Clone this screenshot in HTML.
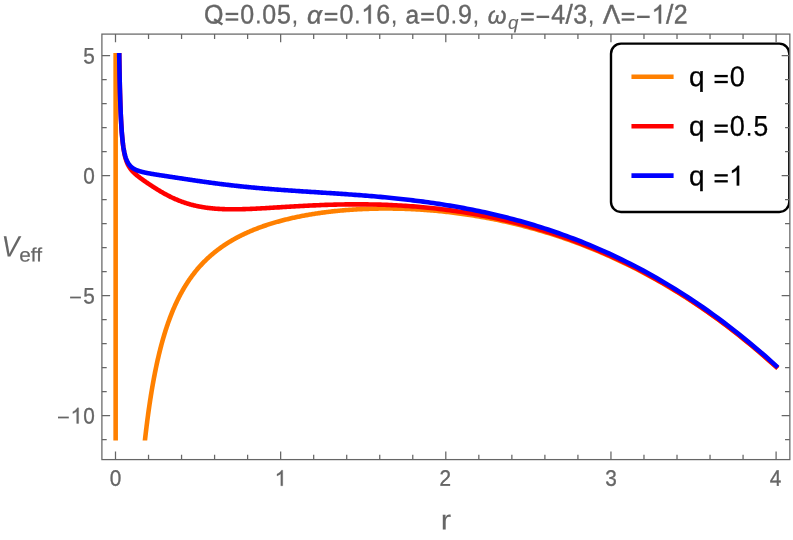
<!DOCTYPE html>
<html><head><meta charset="utf-8"><title>Veff plot</title>
<style>html,body{margin:0;padding:0;background:#fff;}body{width:793px;height:540px;position:relative;overflow:hidden;font-family:"Liberation Sans",sans-serif;}</style>
</head><body>
<svg width="793" height="540" viewBox="0 0 793 540" style="position:absolute;left:0;top:0;will-change:transform">
<defs><clipPath id="cp"><rect x="100" y="53" width="692" height="387.5"/></clipPath><clipPath id="lc"><rect x="600" y="30" width="189.6" height="200"/></clipPath></defs>
<rect width="793" height="540" fill="#fff"/>
<g clip-path="url(#cp)" fill="none" stroke-width="4.6" stroke-linejoin="round" stroke-linecap="square">
<path d="M115.65,40 L115.65,450" stroke="#FF8000"/>
<path d="M132.01,647.06 L132.10,644.60 L132.19,642.15 L132.28,639.71 L132.37,637.28 L132.46,634.87 L132.55,632.47 L132.64,630.08 L132.73,627.70 L132.82,625.34 L132.91,622.99 L133.00,620.65 L133.09,618.32 L133.19,616.00 L133.28,613.70 L133.38,611.40 L133.47,609.12 L133.57,606.85 L133.66,604.60 L133.76,602.35 L133.85,600.12 L133.95,597.89 L134.05,595.68 L134.15,593.48 L134.24,591.29 L134.34,589.12 L134.44,586.95 L134.54,584.80 L134.64,582.65 L134.75,580.52 L134.85,578.40 L134.95,576.28 L135.05,574.18 L135.16,572.10 L135.26,570.02 L135.37,567.95 L135.47,565.89 L135.58,563.84 L135.68,561.81 L135.79,559.78 L135.90,557.77 L136.00,555.76 L136.11,553.77 L136.22,551.78 L136.33,549.81 L136.44,547.85 L136.55,545.89 L136.66,543.95 L136.78,542.01 L136.89,540.09 L137.00,538.18 L137.12,536.27 L137.23,534.38 L137.34,532.49 L137.46,530.62 L137.58,528.75 L137.69,526.90 L137.81,525.05 L137.93,523.22 L138.05,521.39 L138.17,519.57 L138.29,517.77 L138.41,515.97 L138.53,514.18 L138.65,512.40 L138.77,510.63 L138.90,508.86 L139.02,507.11 L139.14,505.37 L139.27,503.63 L139.40,501.91 L139.52,500.19 L139.65,498.48 L139.78,496.78 L139.91,495.09 L140.03,493.41 L140.16,491.74 L140.29,490.08 L140.43,488.42 L140.56,486.77 L140.69,485.13 L140.82,483.50 L140.96,481.88 L141.09,480.27 L141.23,478.66 L141.36,477.07 L141.50,475.48 L141.64,473.90 L141.78,472.33 L141.92,470.76 L142.06,469.21 L142.20,467.66 L142.34,466.12 L142.48,464.59 L142.62,463.06 L142.77,461.55 L142.91,460.04 L143.05,458.54 L143.20,457.05 L143.35,455.56 L143.49,454.09 L143.64,452.62 L143.79,451.15 L143.94,449.70 L144.09,448.25 L144.24,446.81 L144.40,445.38 L144.55,443.96 L144.70,442.54 L144.86,441.13 L145.01,439.73 L145.17,438.33 L145.32,436.95 L145.48,435.57 L145.64,434.19 L145.80,432.83 L145.96,431.47 L146.12,430.11 L146.28,428.77 L146.45,427.43 L146.61,426.10 L146.78,424.77 L146.94,423.46 L147.11,422.15 L147.27,420.84 L147.44,419.54 L147.61,418.25 L147.78,416.97 L147.95,415.69 L148.12,414.42 L148.30,413.16 L148.47,411.90 L148.64,410.65 L148.82,409.41 L149.00,408.17 L149.17,406.94 L149.35,405.71 L149.53,404.49 L149.71,403.28 L149.89,402.07 L150.07,400.87 L150.26,399.68 L150.44,398.49 L150.63,397.31 L150.81,396.14 L151.00,394.97 L151.19,393.80 L151.38,392.65 L151.56,391.49 L151.76,390.35 L151.95,389.21 L152.14,388.08 L152.33,386.95 L152.53,385.83 L152.73,384.71 L152.92,383.60 L153.12,382.50 L153.32,381.40 L153.52,380.31 L153.72,379.22 L153.92,378.14 L154.13,377.06 L154.33,375.99 L154.54,374.93 L154.74,373.87 L154.95,372.82 L155.16,371.77 L155.37,370.72 L155.58,369.69 L155.79,368.66 L156.00,367.63 L156.22,366.61 L156.43,365.59 L156.65,364.58 L156.87,363.58 L157.09,362.57 L157.31,361.58 L157.53,360.59 L157.75,359.61 L157.98,358.63 L158.20,357.65 L158.43,356.68 L158.65,355.72 L158.88,354.76 L159.11,353.80 L159.34,352.85 L159.57,351.91 L159.81,350.97 L160.04,350.03 L160.28,349.10 L160.51,348.18 L160.75,347.26 L160.99,346.34 L161.23,345.43 L161.47,344.53 L161.72,343.62 L161.96,342.73 L162.21,341.84 L162.45,340.95 L162.70,340.07 L162.95,339.19 L163.20,338.31 L163.46,337.44 L163.71,336.58 L163.97,335.72 L164.22,334.86 L164.48,334.01 L164.74,333.17 L165.00,332.32 L165.26,331.49 L165.52,330.65 L165.79,329.82 L166.06,329.00 L166.32,328.18 L166.59,327.36 L166.86,326.55 L167.13,325.74 L167.41,324.94 L167.68,324.14 L167.96,323.34 L168.24,322.55 L168.51,321.76 L168.80,320.98 L169.08,320.20 L169.36,319.42 L169.65,318.65 L169.93,317.89 L170.22,317.12 L170.51,316.36 L170.80,315.61 L171.09,314.86 L171.39,314.11 L171.68,313.37 L171.98,312.63 L172.28,311.89 L172.58,311.16 L172.88,310.43 L173.19,309.70 L173.49,308.98 L173.80,308.27 L174.11,307.55 L174.42,306.84 L174.73,306.14 L175.04,305.44 L175.36,304.74 L175.67,304.04 L175.99,303.35 L176.31,302.66 L176.63,301.98 L176.96,301.30 L177.28,300.62 L177.61,299.95 L177.94,299.28 L178.27,298.61 L178.60,297.95 L178.93,297.29 L179.27,296.63 L179.61,295.98 L179.95,295.33 L180.29,294.68 L180.63,294.04 L180.97,293.40 L181.32,292.77 L181.67,292.13 L182.02,291.50 L182.37,290.88 L182.73,290.25 L183.08,289.63 L183.44,289.02 L183.80,288.40 L184.16,287.79 L184.52,287.19 L184.89,286.58 L185.26,285.98 L185.62,285.39 L186.00,284.79 L186.37,284.20 L186.74,283.61 L187.12,283.03 L187.50,282.44 L187.88,281.86 L188.26,281.29 L188.65,280.71 L189.04,280.14 L189.42,279.58 L189.82,279.01 L190.21,278.45 L190.60,277.89 L191.00,277.34 L191.40,276.79 L191.80,276.24 L192.21,275.69 L192.61,275.14 L193.02,274.60 L193.43,274.07 L193.84,273.53 L194.26,273.00 L194.67,272.47 L195.09,271.94 L195.51,271.41 L195.94,270.89 L196.36,270.37 L196.79,269.86 L197.22,269.34 L197.65,268.83 L198.09,268.32 L198.53,267.82 L198.96,267.32 L199.41,266.82 L199.85,266.32 L200.30,265.82 L200.75,265.33 L201.20,264.84 L201.65,264.35 L202.11,263.87 L202.56,263.39 L203.02,262.91 L203.49,262.43 L203.95,261.95 L204.42,261.48 L204.89,261.01 L205.36,260.54 L205.84,260.08 L206.32,259.62 L206.80,259.16 L207.28,258.70 L207.77,258.24 L208.26,257.79 L208.75,257.34 L209.24,256.89 L209.74,256.45 L210.23,256.00 L210.74,255.56 L211.24,255.12 L211.75,254.69 L212.26,254.25 L212.77,253.82 L213.28,253.39 L213.80,252.97 L214.32,252.54 L214.84,252.12 L215.37,251.70 L215.90,251.28 L216.43,250.87 L216.96,250.45 L217.50,250.04 L218.04,249.63 L218.58,249.22 L219.13,248.82 L219.67,248.42 L220.23,248.02 L220.78,247.62 L221.34,247.22 L221.90,246.83 L222.46,246.44 L223.03,246.05 L223.60,245.66 L224.17,245.27 L224.74,244.89 L225.32,244.51 L225.90,244.13 L226.49,243.75 L227.07,243.38 L227.66,243.00 L228.26,242.63 L228.85,242.26 L229.45,241.90 L230.06,241.53 L230.66,241.17 L231.27,240.81 L231.88,240.45 L232.50,240.09 L233.12,239.74 L233.74,239.38 L234.37,239.03 L235.00,238.68 L235.63,238.34 L236.26,237.99 L236.90,237.65 L237.55,237.31 L238.19,236.97 L238.84,236.63 L239.49,236.30 L240.15,235.96 L240.81,235.63 L241.47,235.30 L242.14,234.97 L242.81,234.65 L243.48,234.33 L244.16,234.00 L244.84,233.68 L245.52,233.36 L246.21,233.05 L246.90,232.73 L247.60,232.42 L248.30,232.11 L249.00,231.80 L249.71,231.50 L250.42,231.19 L251.13,230.89 L251.85,230.59 L252.57,230.29 L253.30,229.99 L254.02,229.69 L254.76,229.40 L255.49,229.11 L256.24,228.82 L256.98,228.53 L257.73,228.24 L258.48,227.96 L259.24,227.67 L260.00,227.39 L260.76,227.11 L261.53,226.83 L262.30,226.56 L263.08,226.29 L263.86,226.01 L264.65,225.74 L265.44,225.47 L266.23,225.21 L267.03,224.94 L267.83,224.68 L268.63,224.42 L269.44,224.16 L270.26,223.90 L271.08,223.65 L271.90,223.39 L272.73,223.14 L273.56,222.89 L274.40,222.64 L275.24,222.39 L276.08,222.15 L276.93,221.91 L277.79,221.67 L278.65,221.43 L279.51,221.19 L280.38,220.95 L281.25,220.72 L282.13,220.49 L283.01,220.26 L283.89,220.03 L284.79,219.80 L285.68,219.58 L286.58,219.36 L287.49,219.14 L288.40,218.92 L289.31,218.70 L290.23,218.48 L291.16,218.27 L292.09,218.06 L293.02,217.85 L293.96,217.64 L294.90,217.44 L295.85,217.23 L296.81,217.03 L297.77,216.83 L298.73,216.64 L299.70,216.44 L300.68,216.25 L301.66,216.05 L302.64,215.86 L303.63,215.68 L304.63,215.49 L305.63,215.31 L306.63,215.12 L307.64,214.95 L308.66,214.77 L309.68,214.59 L310.71,214.42 L311.74,214.25 L312.78,214.08 L313.83,213.91 L314.87,213.75 L315.93,213.58 L316.99,213.42 L318.06,213.26 L319.13,213.11 L320.21,212.95 L321.29,212.80 L322.38,212.65 L323.47,212.50 L324.57,212.36 L325.68,212.22 L326.79,212.08 L327.91,211.94 L329.03,211.80 L330.16,211.67 L331.30,211.54 L332.44,211.41 L333.59,211.28 L334.74,211.16 L335.90,211.04 L337.07,210.92 L338.24,210.80 L339.42,210.69 L340.60,210.58 L341.80,210.47 L342.99,210.36 L344.20,210.26 L345.41,210.16 L346.62,210.06 L347.85,209.96 L349.08,209.87 L350.31,209.78 L351.55,209.69 L352.80,209.61 L354.06,209.53 L355.32,209.45 L356.59,209.37 L357.87,209.30 L359.15,209.23 L360.44,209.17 L361.73,209.10 L363.04,209.04 L364.35,208.98 L365.66,208.93 L366.99,208.88 L368.32,208.83 L369.66,208.79 L371.00,208.75 L372.35,208.71 L373.71,208.67 L375.08,208.64 L376.45,208.62 L377.83,208.59 L379.22,208.57 L380.62,208.56 L382.02,208.54 L383.43,208.53 L384.85,208.53 L386.27,208.53 L387.70,208.53 L389.14,208.53 L390.59,208.54 L392.05,208.56 L393.51,208.58 L394.98,208.60 L396.46,208.62 L397.95,208.65 L399.44,208.69 L400.94,208.73 L402.45,208.77 L403.97,208.82 L405.50,208.87 L407.03,208.93 L408.58,208.99 L410.13,209.06 L411.69,209.13 L413.25,209.21 L414.83,209.29 L416.41,209.37 L418.01,209.47 L419.61,209.56 L421.21,209.66 L422.83,209.77 L424.46,209.88 L426.09,210.00 L427.74,210.12 L429.39,210.25 L431.05,210.39 L432.72,210.53 L434.40,210.67 L436.09,210.83 L437.78,210.99 L439.49,211.15 L441.20,211.32 L442.92,211.50 L444.66,211.68 L446.40,211.87 L448.15,212.07 L449.91,212.27 L451.68,212.48 L453.46,212.70 L455.25,212.92 L457.04,213.15 L458.85,213.39 L460.67,213.64 L462.49,213.89 L464.33,214.15 L466.18,214.42 L468.03,214.70 L469.90,214.98 L471.77,215.27 L473.66,215.57 L475.55,215.88 L477.46,216.20 L479.37,216.53 L481.30,216.86 L483.23,217.21 L485.18,217.56 L487.14,217.92 L489.10,218.29 L491.08,218.67 L493.07,219.06 L495.06,219.46 L497.07,219.87 L499.09,220.29 L501.12,220.72 L503.16,221.16 L505.21,221.61 L507.28,222.08 L509.35,222.55 L511.43,223.03 L513.53,223.53 L515.63,224.04 L517.75,224.55 L519.88,225.08 L522.02,225.63 L524.17,226.18 L526.33,226.75 L528.51,227.33 L530.69,227.92 L532.89,228.52 L535.10,229.14 L537.32,229.77 L539.55,230.42 L541.79,231.08 L544.05,231.75 L546.32,232.44 L548.60,233.14 L550.89,233.86 L553.19,234.59 L555.51,235.34 L557.84,236.10 L560.18,236.88 L562.53,237.67 L564.89,238.48 L567.27,239.31 L569.66,240.16 L572.07,241.02 L574.48,241.90 L576.91,242.79 L579.35,243.71 L581.81,244.64 L584.27,245.59 L586.75,246.56 L589.25,247.55 L591.75,248.56 L594.27,249.59 L596.81,250.64 L599.35,251.71 L601.91,252.80 L604.49,253.91 L607.08,255.05 L609.68,256.20 L612.29,257.38 L614.92,258.58 L617.56,259.80 L620.22,261.05 L622.89,262.32 L625.57,263.61 L628.27,264.93 L630.99,266.28 L633.71,267.65 L636.46,269.04 L639.21,270.46 L641.98,271.91 L644.77,273.38 L647.57,274.89 L650.39,276.42 L653.22,277.97 L656.06,279.56 L658.92,281.18 L661.80,282.83 L664.69,284.50 L667.59,286.21 L670.52,287.95 L673.45,289.72 L676.40,291.53 L679.37,293.36 L682.36,295.23 L685.36,297.14 L688.37,299.08 L691.40,301.05 L694.45,303.06 L697.51,305.11 L700.59,307.19 L703.69,309.31 L706.80,311.47 L709.93,313.67 L713.07,315.91 L716.24,318.18 L719.41,320.50 L722.61,322.86 L725.82,325.26 L729.05,327.71 L732.30,330.20 L735.56,332.73 L738.84,335.31 L742.14,337.93 L745.46,340.60 L748.79,343.32 L752.14,346.08 L755.51,348.90 L758.90,351.76 L762.30,354.68 L765.72,357.64 L769.16,360.66 L772.62,363.73 L776.10,366.86" stroke="#FF8000"/>
<path d="M117.48,-243.51 L117.50,-236.64 L117.52,-229.89 L117.53,-223.24 L117.55,-216.71 L117.57,-210.28 L117.58,-203.96 L117.60,-197.74 L117.62,-191.63 L117.64,-185.61 L117.65,-179.70 L117.67,-173.88 L117.69,-168.16 L117.71,-162.53 L117.73,-156.99 L117.74,-151.55 L117.76,-146.20 L117.78,-140.93 L117.80,-135.75 L117.82,-130.66 L117.84,-125.65 L117.86,-120.72 L117.88,-115.88 L117.90,-111.11 L117.92,-106.42 L117.94,-101.81 L117.96,-97.28 L117.98,-92.82 L118.00,-88.43 L118.02,-84.12 L118.04,-79.88 L118.06,-75.70 L118.09,-71.60 L118.11,-67.56 L118.13,-63.59 L118.15,-59.69 L118.17,-55.85 L118.20,-52.07 L118.22,-48.35 L118.24,-44.70 L118.26,-41.11 L118.29,-37.57 L118.31,-34.10 L118.33,-30.68 L118.36,-27.31 L118.38,-24.01 L118.40,-20.75 L118.43,-17.55 L118.45,-14.41 L118.48,-11.31 L118.50,-8.27 L118.53,-5.27 L118.55,-2.33 L118.58,0.57 L118.60,3.41 L118.63,6.22 L118.66,8.97 L118.68,11.68 L118.71,14.35 L118.74,16.97 L118.76,19.55 L118.79,22.08 L118.82,24.58 L118.85,27.03 L118.87,29.44 L118.90,31.82 L118.93,34.15 L118.96,36.45 L118.99,38.71 L119.02,40.93 L119.05,43.11 L119.08,45.26 L119.11,47.37 L119.14,49.45 L119.17,51.50 L119.20,53.51 L119.23,55.48 L119.26,57.43 L119.29,59.34 L119.32,61.22 L119.35,63.07 L119.39,64.90 L119.42,66.69 L119.45,68.45 L119.48,70.18 L119.52,71.88 L119.55,73.56 L119.58,75.21 L119.62,76.83 L119.65,78.42 L119.69,79.99 L119.72,81.53 L119.76,83.05 L119.79,84.55 L119.83,86.01 L119.86,87.46 L119.90,88.88 L119.94,90.28 L119.97,91.65 L120.01,93.00 L120.05,94.33 L120.09,95.64 L120.13,96.93 L120.16,98.19 L120.20,99.44 L120.24,100.66 L120.28,101.86 L120.32,103.05 L120.36,104.21 L120.40,105.36 L120.44,106.49 L120.49,107.60 L120.53,108.69 L120.57,109.76 L120.61,110.82 L120.65,111.86 L120.70,112.88 L120.74,113.88 L120.78,114.87 L120.83,115.85 L120.87,116.80 L120.92,117.74 L120.96,118.67 L121.01,119.58 L121.05,120.48 L121.10,121.36 L121.15,122.23 L121.19,123.08 L121.24,123.92 L121.29,124.74 L121.34,125.56 L121.39,126.36 L121.44,127.14 L121.49,127.92 L121.54,128.68 L121.59,129.43 L121.64,130.16 L121.69,130.89 L121.74,131.60 L121.79,132.30 L121.84,132.99 L121.90,133.67 L121.95,134.34 L122.00,135.00 L122.06,135.65 L122.11,136.28 L122.17,136.91 L122.22,137.53 L122.28,138.13 L122.34,138.73 L122.39,139.32 L122.45,139.90 L122.51,140.47 L122.57,141.03 L122.63,141.58 L122.69,142.12 L122.75,142.66 L122.81,143.18 L122.87,143.70 L122.93,144.21 L122.99,144.71 L123.05,145.20 L123.12,145.69 L123.18,146.17 L123.24,146.64 L123.31,147.10 L123.37,147.56 L123.44,148.01 L123.51,148.45 L123.57,148.88 L123.64,149.31 L123.71,149.74 L123.78,150.15 L123.85,150.56 L123.92,150.96 L123.99,151.36 L124.06,151.75 L124.13,152.14 L124.20,152.52 L124.27,152.89 L124.35,153.26 L124.42,153.62 L124.49,153.98 L124.57,154.33 L124.64,154.67 L124.72,155.02 L124.80,155.35 L124.88,155.68 L124.95,156.01 L125.03,156.33 L125.11,156.65 L125.19,156.96 L125.27,157.27 L125.35,157.57 L125.44,157.87 L125.52,158.17 L125.60,158.46 L125.69,158.75 L125.77,159.03 L125.86,159.31 L125.95,159.59 L126.03,159.86 L126.12,160.12 L126.21,160.39 L126.30,160.65 L126.39,160.91 L126.48,161.16 L126.57,161.41 L126.66,161.66 L126.76,161.90 L126.85,162.14 L126.94,162.38 L127.04,162.62 L127.14,162.85 L127.23,163.08 L127.33,163.30 L127.43,163.53 L127.53,163.75 L127.63,163.97 L127.73,164.18 L127.83,164.39 L127.94,164.60 L128.04,164.81 L128.15,165.02 L128.25,165.22 L128.36,165.42 L128.46,165.62 L128.57,165.82 L128.68,166.01 L128.79,166.21 L128.90,166.40 L129.01,166.59 L129.13,166.77 L129.24,166.96 L129.36,167.14 L129.47,167.32 L129.59,167.50 L129.71,167.68 L129.82,167.86 L129.94,168.03 L130.06,168.21 L130.19,168.38 L130.31,168.55 L130.43,168.72 L130.56,168.89 L130.68,169.06 L130.81,169.22 L130.94,169.39 L131.07,169.55 L131.20,169.71 L131.33,169.87 L131.46,170.03 L131.59,170.19 L131.73,170.35 L131.86,170.51 L132.00,170.66 L132.14,170.82 L132.27,170.98 L132.41,171.13 L132.56,171.28 L132.70,171.43 L132.84,171.59 L132.99,171.74 L133.13,171.89 L133.28,172.04 L133.43,172.19 L133.58,172.34 L133.73,172.49 L133.88,172.64 L134.03,172.78 L134.19,172.93 L134.34,173.08 L134.50,173.22 L134.66,173.37 L134.82,173.52 L134.98,173.66 L135.14,173.81 L135.31,173.96 L135.47,174.10 L135.64,174.25 L135.81,174.39 L135.98,174.54 L136.15,174.69 L136.32,174.83 L136.49,174.98 L136.67,175.13 L136.85,175.27 L137.02,175.42 L137.20,175.56 L137.38,175.71 L137.57,175.86 L137.75,176.01 L137.94,176.15 L138.12,176.30 L138.31,176.45 L138.50,176.60 L138.70,176.75 L138.89,176.90 L139.08,177.05 L139.28,177.20 L139.48,177.35 L139.68,177.50 L139.88,177.66 L140.08,177.81 L140.29,177.96 L140.50,178.12 L140.71,178.27 L140.92,178.43 L141.13,178.58 L141.34,178.74 L141.56,178.90 L141.77,179.05 L141.99,179.21 L142.22,179.37 L142.44,179.53 L142.66,179.70 L142.89,179.86 L143.12,180.02 L143.35,180.18 L143.58,180.35 L143.82,180.52 L144.05,180.68 L144.29,180.85 L144.53,181.02 L144.77,181.19 L145.02,181.36 L145.26,181.53 L145.51,181.70 L145.76,181.88 L146.01,182.05 L146.27,182.23 L146.53,182.40 L146.79,182.58 L147.05,182.76 L147.31,182.94 L147.57,183.12 L147.84,183.30 L148.11,183.48 L148.38,183.67 L148.66,183.85 L148.94,184.04 L149.21,184.23 L149.50,184.41 L149.78,184.60 L150.07,184.79 L150.35,184.99 L150.65,185.18 L150.94,185.37 L151.23,185.57 L151.53,185.76 L151.83,185.96 L152.14,186.16 L152.44,186.36 L152.75,186.56 L153.06,186.76 L153.37,186.96 L153.69,187.17 L154.01,187.37 L154.33,187.58 L154.66,187.78 L154.98,187.99 L155.31,188.20 L155.64,188.41 L155.98,188.62 L156.32,188.83 L156.66,189.04 L157.00,189.26 L157.35,189.47 L157.70,189.68 L158.05,189.90 L158.40,190.12 L158.76,190.33 L159.12,190.55 L159.49,190.77 L159.85,190.99 L160.22,191.21 L160.60,191.43 L160.97,191.65 L161.35,191.88 L161.74,192.10 L162.12,192.32 L162.51,192.54 L162.90,192.77 L163.30,192.99 L163.70,193.22 L164.10,193.44 L164.50,193.67 L164.91,193.90 L165.33,194.12 L165.74,194.35 L166.16,194.57 L166.58,194.80 L167.01,195.03 L167.44,195.25 L167.87,195.48 L168.31,195.71 L168.75,195.93 L169.20,196.16 L169.64,196.38 L170.10,196.61 L170.55,196.84 L171.01,197.06 L171.47,197.29 L171.94,197.51 L172.41,197.73 L172.89,197.96 L173.37,198.18 L173.85,198.40 L174.34,198.62 L174.83,198.84 L175.32,199.06 L175.82,199.28 L176.32,199.49 L176.83,199.71 L177.34,199.92 L177.86,200.14 L178.38,200.35 L178.91,200.56 L179.43,200.77 L179.97,200.98 L180.51,201.19 L181.05,201.39 L181.60,201.60 L182.15,201.80 L182.70,202.00 L183.26,202.20 L183.83,202.40 L184.40,202.59 L184.97,202.79 L185.55,202.98 L186.14,203.17 L186.73,203.35 L187.32,203.54 L187.92,203.72 L188.53,203.90 L189.14,204.08 L189.75,204.26 L190.37,204.43 L191.00,204.60 L191.63,204.77 L192.26,204.94 L192.90,205.10 L193.55,205.26 L194.20,205.42 L194.86,205.58 L195.52,205.73 L196.19,205.88 L196.86,206.03 L197.54,206.17 L198.22,206.31 L198.91,206.45 L199.61,206.58 L200.31,206.72 L201.02,206.85 L201.73,206.97 L202.45,207.09 L203.18,207.21 L203.91,207.33 L204.65,207.44 L205.39,207.55 L206.14,207.66 L206.90,207.76 L207.66,207.86 L208.43,207.96 L209.20,208.05 L209.99,208.14 L210.78,208.23 L211.57,208.31 L212.37,208.39 L213.18,208.47 L214.00,208.54 L214.82,208.61 L215.65,208.68 L216.48,208.74 L217.32,208.80 L218.17,208.86 L219.03,208.91 L219.90,208.96 L220.77,209.00 L221.64,209.04 L222.53,209.08 L223.42,209.12 L224.32,209.15 L225.23,209.18 L226.15,209.20 L227.07,209.23 L228.00,209.24 L228.94,209.26 L229.89,209.27 L230.84,209.28 L231.81,209.29 L232.78,209.29 L233.76,209.29 L234.74,209.28 L235.74,209.28 L236.74,209.27 L237.75,209.26 L238.77,209.24 L239.80,209.22 L240.84,209.20 L241.88,209.18 L242.94,209.15 L244.00,209.12 L245.08,209.09 L246.16,209.05 L247.25,209.01 L248.35,208.97 L249.46,208.93 L250.57,208.89 L251.70,208.84 L252.84,208.79 L253.98,208.74 L255.14,208.68 L256.30,208.63 L257.48,208.57 L258.66,208.51 L259.86,208.44 L261.06,208.38 L262.28,208.31 L263.50,208.25 L264.74,208.18 L265.98,208.11 L267.24,208.03 L268.51,207.96 L269.78,207.88 L271.07,207.81 L272.37,207.73 L273.68,207.65 L275.00,207.57 L276.33,207.49 L277.67,207.41 L279.02,207.33 L280.39,207.24 L281.76,207.16 L283.15,207.07 L284.55,206.99 L285.96,206.90 L287.38,206.82 L288.82,206.73 L290.27,206.64 L291.72,206.56 L293.19,206.47 L294.68,206.39 L296.17,206.30 L297.68,206.22 L299.20,206.13 L300.73,206.05 L302.28,205.96 L303.84,205.88 L305.41,205.80 L307.00,205.72 L308.59,205.64 L310.20,205.56 L311.83,205.48 L313.47,205.40 L315.12,205.33 L316.79,205.26 L318.47,205.19 L320.16,205.12 L321.87,205.05 L323.59,204.99 L325.33,204.92 L327.08,204.86 L328.84,204.80 L330.62,204.75 L332.42,204.70 L334.23,204.65 L336.05,204.60 L337.89,204.56 L339.75,204.52 L341.62,204.48 L343.51,204.45 L345.41,204.42 L347.33,204.39 L349.27,204.37 L351.22,204.36 L353.18,204.34 L355.17,204.34 L357.17,204.33 L359.18,204.34 L361.22,204.34 L363.27,204.36 L365.34,204.37 L367.42,204.40 L369.52,204.43 L371.64,204.46 L373.78,204.50 L375.94,204.55 L378.11,204.61 L380.30,204.67 L382.51,204.74 L384.74,204.81 L386.99,204.90 L389.25,204.99 L391.54,205.09 L393.84,205.20 L396.16,205.31 L398.50,205.44 L400.87,205.57 L403.25,205.71 L405.65,205.87 L408.07,206.03 L410.51,206.20 L412.97,206.39 L415.46,206.58 L417.96,206.78 L420.48,207.00 L423.03,207.23 L425.60,207.47 L428.18,207.72 L430.79,207.99 L433.42,208.26 L436.08,208.55 L438.75,208.86 L441.45,209.18 L444.17,209.51 L446.91,209.86 L449.68,210.23 L452.47,210.61 L455.28,211.00 L458.11,211.41 L460.97,211.84 L463.86,212.29 L466.76,212.76 L469.70,213.24 L472.65,213.75 L475.63,214.27 L478.64,214.81 L481.67,215.37 L484.72,215.96 L487.81,216.57 L490.91,217.20 L494.05,217.85 L497.20,218.52 L500.39,219.22 L503.60,219.95 L506.84,220.70 L510.11,221.47 L513.40,222.28 L516.72,223.11 L520.07,223.97 L523.44,224.86 L526.85,225.77 L530.28,226.72 L533.74,227.70 L537.23,228.72 L540.75,229.76 L544.30,230.84 L547.88,231.96 L551.49,233.11 L555.13,234.30 L558.80,235.53 L562.50,236.79 L566.23,238.10 L569.99,239.44 L573.78,240.83 L577.60,242.26 L581.46,243.74 L585.35,245.26 L589.27,246.83 L593.22,248.44 L597.21,250.11 L601.23,251.83 L605.28,253.59 L609.37,255.42 L613.49,257.29 L617.65,259.22 L621.84,261.21 L626.07,263.26 L630.33,265.37 L634.62,267.54 L638.95,269.78 L643.32,272.08 L647.73,274.45 L652.17,276.89 L656.65,279.40 L661.16,281.98 L665.72,284.63 L670.31,287.37 L674.94,290.18 L679.61,293.07 L684.32,296.05 L689.06,299.11 L693.85,302.26 L698.68,305.49 L703.54,308.82 L708.45,312.25 L713.40,315.77 L718.39,319.39 L723.42,323.11 L728.49,326.94 L733.61,330.87 L738.77,334.92 L743.97,339.08 L749.21,343.35 L754.50,347.75 L759.83,352.26 L765.21,356.91 L770.63,361.68 L776.10,366.58" stroke="#FF0000"/>
<path d="M117.48,-243.56 L117.50,-236.69 L117.52,-229.94 L117.53,-223.29 L117.55,-216.76 L117.57,-210.33 L117.58,-204.01 L117.60,-197.79 L117.62,-191.68 L117.64,-185.67 L117.65,-179.75 L117.67,-173.94 L117.69,-168.22 L117.71,-162.59 L117.73,-157.06 L117.74,-151.61 L117.76,-146.26 L117.78,-141.00 L117.80,-135.82 L117.82,-130.73 L117.84,-125.72 L117.86,-120.79 L117.88,-115.95 L117.90,-111.18 L117.92,-106.49 L117.94,-101.89 L117.96,-97.35 L117.98,-92.89 L118.00,-88.51 L118.02,-84.20 L118.04,-79.95 L118.06,-75.78 L118.09,-71.68 L118.11,-67.64 L118.13,-63.68 L118.15,-59.77 L118.17,-55.93 L118.20,-52.16 L118.22,-48.44 L118.24,-44.79 L118.26,-41.20 L118.29,-37.67 L118.31,-34.19 L118.33,-30.78 L118.36,-27.41 L118.38,-24.11 L118.40,-20.86 L118.43,-17.66 L118.45,-14.51 L118.48,-11.42 L118.50,-8.38 L118.53,-5.39 L118.55,-2.44 L118.58,0.45 L118.60,3.30 L118.63,6.10 L118.66,8.85 L118.68,11.56 L118.71,14.22 L118.74,16.84 L118.76,19.42 L118.79,21.95 L118.82,24.44 L118.85,26.89 L118.87,29.30 L118.90,31.67 L118.93,34.01 L118.96,36.30 L118.99,38.56 L119.02,40.77 L119.05,42.96 L119.08,45.10 L119.11,47.21 L119.14,49.29 L119.17,51.33 L119.20,53.34 L119.23,55.31 L119.26,57.26 L119.29,59.17 L119.32,61.04 L119.35,62.89 L119.39,64.71 L119.42,66.50 L119.45,68.26 L119.48,69.98 L119.52,71.69 L119.55,73.36 L119.58,75.00 L119.62,76.62 L119.65,78.21 L119.69,79.78 L119.72,81.32 L119.76,82.83 L119.79,84.32 L119.83,85.78 L119.86,87.22 L119.90,88.64 L119.94,90.03 L119.97,91.40 L120.01,92.75 L120.05,94.08 L120.09,95.38 L120.13,96.66 L120.16,97.92 L120.20,99.16 L120.24,100.38 L120.28,101.58 L120.32,102.76 L120.36,103.93 L120.40,105.07 L120.44,106.19 L120.49,107.29 L120.53,108.38 L120.57,109.45 L120.61,110.50 L120.65,111.53 L120.70,112.55 L120.74,113.55 L120.78,114.53 L120.83,115.50 L120.87,116.45 L120.92,117.38 L120.96,118.30 L121.01,119.21 L121.05,120.10 L121.10,120.97 L121.15,121.84 L121.19,122.68 L121.24,123.52 L121.29,124.33 L121.34,125.14 L121.39,125.93 L121.44,126.71 L121.49,127.48 L121.54,128.23 L121.59,128.97 L121.64,129.70 L121.69,130.42 L121.74,131.13 L121.79,131.82 L121.84,132.50 L121.90,133.17 L121.95,133.83 L122.00,134.48 L122.06,135.12 L122.11,135.75 L122.17,136.37 L122.22,136.98 L122.28,137.57 L122.34,138.16 L122.39,138.74 L122.45,139.31 L122.51,139.87 L122.57,140.42 L122.63,140.96 L122.69,141.49 L122.75,142.02 L122.81,142.53 L122.87,143.04 L122.93,143.54 L122.99,144.03 L123.05,144.51 L123.12,144.98 L123.18,145.45 L123.24,145.91 L123.31,146.36 L123.37,146.81 L123.44,147.24 L123.51,147.67 L123.57,148.09 L123.64,148.51 L123.71,148.92 L123.78,149.32 L123.85,149.72 L123.92,150.11 L123.99,150.49 L124.06,150.87 L124.13,151.24 L124.20,151.60 L124.27,151.96 L124.35,152.31 L124.42,152.66 L124.49,153.00 L124.57,153.34 L124.64,153.67 L124.72,153.99 L124.80,154.31 L124.88,154.62 L124.95,154.93 L125.03,155.24 L125.11,155.54 L125.19,155.83 L125.27,156.12 L125.35,156.41 L125.44,156.69 L125.52,156.96 L125.60,157.23 L125.69,157.50 L125.77,157.76 L125.86,158.02 L125.95,158.28 L126.03,158.53 L126.12,158.77 L126.21,159.01 L126.30,159.25 L126.39,159.49 L126.48,159.72 L126.57,159.95 L126.66,160.17 L126.76,160.39 L126.85,160.60 L126.94,160.82 L127.04,161.03 L127.14,161.23 L127.23,161.44 L127.33,161.64 L127.43,161.83 L127.53,162.03 L127.63,162.22 L127.73,162.40 L127.83,162.59 L127.94,162.77 L128.04,162.95 L128.15,163.12 L128.25,163.30 L128.36,163.47 L128.46,163.63 L128.57,163.80 L128.68,163.96 L128.79,164.12 L128.90,164.28 L129.01,164.43 L129.13,164.59 L129.24,164.74 L129.36,164.88 L129.47,165.03 L129.59,165.17 L129.71,165.31 L129.82,165.45 L129.94,165.59 L130.06,165.73 L130.19,165.86 L130.31,165.99 L130.43,166.12 L130.56,166.24 L130.68,166.37 L130.81,166.49 L130.94,166.61 L131.07,166.73 L131.20,166.85 L131.33,166.97 L131.46,167.08 L131.59,167.19 L131.73,167.31 L131.86,167.42 L132.00,167.52 L132.14,167.63 L132.27,167.73 L132.41,167.84 L132.56,167.94 L132.70,168.04 L132.84,168.14 L132.99,168.24 L133.13,168.33 L133.28,168.43 L133.43,168.52 L133.58,168.61 L133.73,168.71 L133.88,168.80 L134.03,168.88 L134.19,168.97 L134.34,169.06 L134.50,169.14 L134.66,169.23 L134.82,169.31 L134.98,169.39 L135.14,169.47 L135.31,169.55 L135.47,169.63 L135.64,169.71 L135.81,169.79 L135.98,169.86 L136.15,169.94 L136.32,170.01 L136.49,170.09 L136.67,170.16 L136.85,170.23 L137.02,170.30 L137.20,170.37 L137.38,170.44 L137.57,170.51 L137.75,170.58 L137.94,170.65 L138.12,170.71 L138.31,170.78 L138.50,170.85 L138.70,170.91 L138.89,170.97 L139.08,171.04 L139.28,171.10 L139.48,171.16 L139.68,171.22 L139.88,171.29 L140.08,171.35 L140.29,171.41 L140.50,171.47 L140.71,171.52 L140.92,171.58 L141.13,171.64 L141.34,171.70 L141.56,171.76 L141.77,171.81 L141.99,171.87 L142.22,171.93 L142.44,171.98 L142.66,172.04 L142.89,172.09 L143.12,172.15 L143.35,172.20 L143.58,172.26 L143.82,172.31 L144.05,172.37 L144.29,172.42 L144.53,172.47 L144.77,172.53 L145.02,172.58 L145.26,172.63 L145.51,172.68 L145.76,172.74 L146.01,172.79 L146.27,172.84 L146.53,172.89 L146.79,172.94 L147.05,173.00 L147.31,173.05 L147.57,173.10 L147.84,173.15 L148.11,173.20 L148.38,173.25 L148.66,173.31 L148.94,173.36 L149.21,173.41 L149.50,173.46 L149.78,173.51 L150.07,173.56 L150.35,173.61 L150.65,173.67 L150.94,173.72 L151.23,173.77 L151.53,173.82 L151.83,173.87 L152.14,173.92 L152.44,173.98 L152.75,174.03 L153.06,174.08 L153.37,174.13 L153.69,174.19 L154.01,174.24 L154.33,174.29 L154.66,174.34 L154.98,174.40 L155.31,174.45 L155.64,174.51 L155.98,174.56 L156.32,174.61 L156.66,174.67 L157.00,174.72 L157.35,174.78 L157.70,174.83 L158.05,174.89 L158.40,174.95 L158.76,175.00 L159.12,175.06 L159.49,175.12 L159.85,175.17 L160.22,175.23 L160.60,175.29 L160.97,175.35 L161.35,175.41 L161.74,175.46 L162.12,175.52 L162.51,175.58 L162.90,175.64 L163.30,175.71 L163.70,175.77 L164.10,175.83 L164.50,175.89 L164.91,175.95 L165.33,176.02 L165.74,176.08 L166.16,176.14 L166.58,176.21 L167.01,176.27 L167.44,176.34 L167.87,176.40 L168.31,176.47 L168.75,176.54 L169.20,176.61 L169.64,176.67 L170.10,176.74 L170.55,176.81 L171.01,176.88 L171.47,176.95 L171.94,177.02 L172.41,177.09 L172.89,177.17 L173.37,177.24 L173.85,177.31 L174.34,177.39 L174.83,177.46 L175.32,177.54 L175.82,177.61 L176.32,177.69 L176.83,177.76 L177.34,177.84 L177.86,177.92 L178.38,178.00 L178.91,178.08 L179.43,178.16 L179.97,178.24 L180.51,178.32 L181.05,178.40 L181.60,178.48 L182.15,178.57 L182.70,178.65 L183.26,178.73 L183.83,178.82 L184.40,178.91 L184.97,178.99 L185.55,179.08 L186.14,179.17 L186.73,179.25 L187.32,179.34 L187.92,179.43 L188.53,179.52 L189.14,179.61 L189.75,179.70 L190.37,179.80 L191.00,179.89 L191.63,179.98 L192.26,180.08 L192.90,180.17 L193.55,180.27 L194.20,180.36 L194.86,180.46 L195.52,180.55 L196.19,180.65 L196.86,180.75 L197.54,180.85 L198.22,180.95 L198.91,181.05 L199.61,181.15 L200.31,181.25 L201.02,181.35 L201.73,181.45 L202.45,181.55 L203.18,181.66 L203.91,181.76 L204.65,181.86 L205.39,181.97 L206.14,182.07 L206.90,182.18 L207.66,182.28 L208.43,182.39 L209.20,182.49 L209.99,182.60 L210.78,182.71 L211.57,182.82 L212.37,182.92 L213.18,183.03 L214.00,183.14 L214.82,183.25 L215.65,183.36 L216.48,183.47 L217.32,183.58 L218.17,183.69 L219.03,183.80 L219.90,183.91 L220.77,184.02 L221.64,184.13 L222.53,184.24 L223.42,184.35 L224.32,184.46 L225.23,184.57 L226.15,184.68 L227.07,184.79 L228.00,184.90 L228.94,185.01 L229.89,185.12 L230.84,185.24 L231.81,185.35 L232.78,185.46 L233.76,185.57 L234.74,185.68 L235.74,185.79 L236.74,185.90 L237.75,186.01 L238.77,186.12 L239.80,186.23 L240.84,186.34 L241.88,186.45 L242.94,186.56 L244.00,186.67 L245.08,186.78 L246.16,186.89 L247.25,187.00 L248.35,187.11 L249.46,187.22 L250.57,187.33 L251.70,187.44 L252.84,187.54 L253.98,187.65 L255.14,187.76 L256.30,187.86 L257.48,187.97 L258.66,188.08 L259.86,188.18 L261.06,188.29 L262.28,188.39 L263.50,188.50 L264.74,188.60 L265.98,188.71 L267.24,188.81 L268.51,188.91 L269.78,189.02 L271.07,189.12 L272.37,189.22 L273.68,189.32 L275.00,189.43 L276.33,189.53 L277.67,189.63 L279.02,189.73 L280.39,189.83 L281.76,189.93 L283.15,190.03 L284.55,190.13 L285.96,190.23 L287.38,190.33 L288.82,190.43 L290.27,190.53 L291.72,190.63 L293.19,190.73 L294.68,190.83 L296.17,190.93 L297.68,191.03 L299.20,191.13 L300.73,191.24 L302.28,191.34 L303.84,191.44 L305.41,191.54 L307.00,191.64 L308.59,191.74 L310.20,191.85 L311.83,191.95 L313.47,192.06 L315.12,192.16 L316.79,192.27 L318.47,192.37 L320.16,192.48 L321.87,192.59 L323.59,192.70 L325.33,192.81 L327.08,192.93 L328.84,193.04 L330.62,193.16 L332.42,193.27 L334.23,193.39 L336.05,193.51 L337.89,193.64 L339.75,193.76 L341.62,193.89 L343.51,194.02 L345.41,194.15 L347.33,194.28 L349.27,194.42 L351.22,194.56 L353.18,194.70 L355.17,194.85 L357.17,195.00 L359.18,195.15 L361.22,195.31 L363.27,195.47 L365.34,195.63 L367.42,195.80 L369.52,195.98 L371.64,196.15 L373.78,196.33 L375.94,196.52 L378.11,196.71 L380.30,196.91 L382.51,197.11 L384.74,197.32 L386.99,197.54 L389.25,197.76 L391.54,197.98 L393.84,198.22 L396.16,198.46 L398.50,198.70 L400.87,198.96 L403.25,199.22 L405.65,199.49 L408.07,199.77 L410.51,200.06 L412.97,200.35 L415.46,200.66 L417.96,200.97 L420.48,201.30 L423.03,201.63 L425.60,201.98 L428.18,202.33 L430.79,202.70 L433.42,203.08 L436.08,203.47 L438.75,203.87 L441.45,204.29 L444.17,204.72 L446.91,205.16 L449.68,205.61 L452.47,206.08 L455.28,206.57 L458.11,207.07 L460.97,207.58 L463.86,208.12 L466.76,208.67 L469.70,209.23 L472.65,209.81 L475.63,210.42 L478.64,211.04 L481.67,211.68 L484.72,212.34 L487.81,213.02 L490.91,213.72 L494.05,214.44 L497.20,215.19 L500.39,215.96 L503.60,216.75 L506.84,217.56 L510.11,218.40 L513.40,219.27 L516.72,220.17 L520.07,221.09 L523.44,222.04 L526.85,223.01 L530.28,224.02 L533.74,225.06 L537.23,226.13 L540.75,227.23 L544.30,228.36 L547.88,229.53 L551.49,230.73 L555.13,231.97 L558.80,233.25 L562.50,234.56 L566.23,235.92 L569.99,237.31 L573.78,238.75 L577.60,240.22 L581.46,241.74 L585.35,243.31 L589.27,244.92 L593.22,246.58 L597.21,248.28 L601.23,250.04 L605.28,251.85 L609.37,253.71 L613.49,255.62 L617.65,257.59 L621.84,259.61 L626.07,261.70 L630.33,263.84 L634.62,266.05 L638.95,268.32 L643.32,270.65 L647.73,273.05 L652.17,275.52 L656.65,278.06 L661.16,280.67 L665.72,283.36 L670.31,286.12 L674.94,288.96 L679.61,291.88 L684.32,294.88 L689.06,297.97 L693.85,301.14 L698.68,304.41 L703.54,307.76 L708.45,311.21 L713.40,314.75 L718.39,318.40 L723.42,322.14 L728.49,325.99 L733.61,329.95 L738.77,334.02 L743.97,338.20 L749.21,342.49 L754.50,346.90 L759.83,351.44 L765.21,356.10 L770.63,360.89 L776.10,365.81" stroke="#0000FF"/>
</g>
<rect x="611.0" y="43.65" width="178.3" height="168.3" rx="10" ry="10" fill="#fff" stroke="#000" stroke-width="2.4" clip-path="url(#lc)"/>
<line x1="631.45" y1="76.75" x2="673.6" y2="76.75" stroke="#FF8000" stroke-width="4.6"/>
<line x1="631.45" y1="126.2" x2="673.6" y2="126.2" stroke="#FF0000" stroke-width="4.6"/>
<line x1="631.45" y1="175.6" x2="673.6" y2="175.6" stroke="#0000FF" stroke-width="4.6"/>
<g stroke="#666666" stroke-width="1.25" fill="none">
<rect x="101.9" y="34.1" width="687.95" height="425.5"/>
<path d="M115.50,459.60 v-8.20 M115.50,34.10 v8.20 M148.53,459.60 v-4.80 M148.53,34.10 v4.80 M181.56,459.60 v-4.80 M181.56,34.10 v4.80 M214.59,459.60 v-4.80 M214.59,34.10 v4.80 M247.62,459.60 v-4.80 M247.62,34.10 v4.80 M280.65,459.60 v-8.20 M280.65,34.10 v8.20 M313.68,459.60 v-4.80 M313.68,34.10 v4.80 M346.71,459.60 v-4.80 M346.71,34.10 v4.80 M379.74,459.60 v-4.80 M379.74,34.10 v4.80 M412.77,459.60 v-4.80 M412.77,34.10 v4.80 M445.80,459.60 v-8.20 M445.80,34.10 v8.20 M478.83,459.60 v-4.80 M478.83,34.10 v4.80 M511.86,459.60 v-4.80 M511.86,34.10 v4.80 M544.89,459.60 v-4.80 M544.89,34.10 v4.80 M577.92,459.60 v-4.80 M577.92,34.10 v4.80 M610.95,459.60 v-8.20 M610.95,34.10 v8.20 M643.98,459.60 v-4.80 M643.98,34.10 v4.80 M677.01,459.60 v-4.80 M677.01,34.10 v4.80 M710.04,459.60 v-4.80 M710.04,34.10 v4.80 M743.07,459.60 v-4.80 M743.07,34.10 v4.80 M776.10,459.60 v-8.20 M776.10,34.10 v8.20 M101.90,439.50 h4.80 M789.85,439.50 h-4.80 M101.90,415.50 h8.20 M789.85,415.50 h-8.20 M101.90,391.50 h4.80 M789.85,391.50 h-4.80 M101.90,367.50 h4.80 M789.85,367.50 h-4.80 M101.90,343.50 h4.80 M789.85,343.50 h-4.80 M101.90,319.50 h4.80 M789.85,319.50 h-4.80 M101.90,295.50 h8.20 M789.85,295.50 h-8.20 M101.90,271.50 h4.80 M789.85,271.50 h-4.80 M101.90,247.50 h4.80 M789.85,247.50 h-4.80 M101.90,223.50 h4.80 M789.85,223.50 h-4.80 M101.90,199.50 h4.80 M789.85,199.50 h-4.80 M101.90,175.50 h8.20 M789.85,175.50 h-8.20 M101.90,151.50 h4.80 M789.85,151.50 h-4.80 M101.90,127.50 h4.80 M789.85,127.50 h-4.80 M101.90,103.50 h4.80 M789.85,103.50 h-4.80 M101.90,79.50 h4.80 M789.85,79.50 h-4.80 M101.90,55.50 h8.20 M789.85,55.50 h-8.20"/>
</g>
<g font-family="Liberation Sans, sans-serif" stroke-linejoin="round">
<text transform="translate(109.78 485.75) rotate(0.03) scale(0.9263 1)" font-size="22.4" fill="#666666" stroke="#666666" stroke-width="0.33">0</text>
<path d="M282.73,485.75 H280.82 V473.65 Q280.13,474.30 279.01,474.95 Q277.89,475.61 277.00,475.93 V474.10 Q278.60,473.35 279.80,472.28 Q281.00,471.22 281.50,470.21 H282.73 Z" fill="#666666" stroke="#666666" stroke-width="0.33"/>
<text transform="translate(439.58 485.75) rotate(0.03) scale(0.9263 1)" font-size="22.4" fill="#666666" stroke="#666666" stroke-width="0.33">2</text>
<text transform="translate(605.23 485.75) rotate(0.03) scale(0.9263 1)" font-size="22.4" fill="#666666" stroke="#666666" stroke-width="0.33">3</text>
<text transform="translate(769.78 485.75) rotate(0.03) scale(0.9263 1)" font-size="22.4" fill="#666666" stroke="#666666" stroke-width="0.33">4</text>
<text transform="translate(83.25 63.40) rotate(0.03) scale(0.9263 1)" font-size="22.4" fill="#666666" stroke="#666666" stroke-width="0.33">5</text>
<text transform="translate(83.25 183.40) rotate(0.03) scale(0.9263 1)" font-size="22.4" fill="#666666" stroke="#666666" stroke-width="0.33">0</text>
<text transform="translate(83.25 303.40) rotate(0.03) scale(0.9263 1)" font-size="22.4" fill="#666666" stroke="#666666" stroke-width="0.33">5</text>
<rect x="70.10" y="296.62" width="10.80" height="1.75" fill="#666666"/>
<path d="M78.60,423.40 H76.69 V411.30 Q76.00,411.95 74.88,412.60 Q73.76,413.26 72.87,413.58 V411.75 Q74.47,411.00 75.67,409.93 Q76.87,408.87 77.37,407.86 H78.60 Z" fill="#666666" stroke="#666666" stroke-width="0.33"/>
<text transform="translate(83.25 423.40) rotate(0.03) scale(0.9263 1)" font-size="22.4" fill="#666666" stroke="#666666" stroke-width="0.33">0</text>
<rect x="58.00" y="416.62" width="10.80" height="1.75" fill="#666666"/>
<text transform="translate(440.70 529.60) rotate(0.03) scale(1.1111 1)" font-size="27.9" fill="#666666" stroke="#666666" stroke-width="0.1">r</text>
<text transform="translate(1.55 256.60) rotate(0.03) scale(0.9013 1)" font-size="29.5" font-style="italic" fill="#666666" stroke="#666666" stroke-width="0.1">V</text>
<text transform="translate(19.22 261.60) rotate(0.03) scale(1.0680 1)" font-size="19.5" fill="#666666" stroke="#666666" stroke-width="0.2">eff</text>
<text transform="translate(204.03 23.50) rotate(0.03) scale(0.9240 1)" font-size="27.0" fill="#666666" stroke="#666666" stroke-width="0.4">O</text>
<path d="M214.11,19.14 L222.43,24.50" stroke="#666666" stroke-width="2.35" fill="none"/>
<rect x="225.64" y="12.79" width="12.60" height="2.30" fill="#666666"/>
<rect x="225.64" y="18.39" width="12.60" height="2.30" fill="#666666"/>
<text transform="translate(240.31 23.50) rotate(0.03) scale(0.9240 1)" font-size="27.0" fill="#666666" stroke="#666666" stroke-width="0.4">0</text>
<text transform="translate(254.88 23.50) rotate(0.03) scale(0.9778 1)" font-size="24.84" fill="#666666" stroke="#666666" stroke-width="0.10000000000000003">.</text>
<text transform="translate(262.32 23.50) rotate(0.03) scale(0.9240 1)" font-size="27.0" fill="#666666" stroke="#666666" stroke-width="0.4">0</text>
<text transform="translate(277.00 23.50) rotate(0.03) scale(0.9240 1)" font-size="27.0" fill="#666666" stroke="#666666" stroke-width="0.4">5</text>
<text transform="translate(291.58 23.50) rotate(0.03) scale(0.9778 1)" font-size="24.84" fill="#666666" stroke="#666666" stroke-width="0.10000000000000003">,</text>
<text transform="translate(306.90 23.50) rotate(0.03) scale(1.0508 1)" font-size="25.0" font-style="italic" fill="#666666" stroke="#666666" stroke-width="0.4">α</text>
<rect x="324.77" y="12.79" width="12.60" height="2.30" fill="#666666"/>
<rect x="324.77" y="18.39" width="12.60" height="2.30" fill="#666666"/>
<text transform="translate(339.43 23.50) rotate(0.03) scale(0.9240 1)" font-size="27.0" fill="#666666" stroke="#666666" stroke-width="0.4">0</text>
<text transform="translate(354.00 23.50) rotate(0.03) scale(0.9778 1)" font-size="24.84" fill="#666666" stroke="#666666" stroke-width="0.10000000000000003">.</text>
<path d="M370.77,23.50 H368.52 V8.91 Q367.71,9.70 366.39,10.49 Q365.07,11.27 364.02,11.67 V9.45 Q365.91,8.55 367.32,7.27 Q368.73,5.98 369.32,4.77 H370.77 Z" fill="#666666" stroke="#666666" stroke-width="0.4"/>
<text transform="translate(376.13 23.50) rotate(0.03) scale(0.9240 1)" font-size="27.0" fill="#666666" stroke="#666666" stroke-width="0.4">6</text>
<text transform="translate(390.70 23.50) rotate(0.03) scale(0.9778 1)" font-size="24.84" fill="#666666" stroke="#666666" stroke-width="0.10000000000000003">,</text>
<text transform="translate(405.43 23.50) rotate(0.03) scale(0.9572 1)" font-size="25.65" fill="#666666" stroke="#666666" stroke-width="0.4">a</text>
<rect x="421.22" y="12.79" width="12.60" height="2.30" fill="#666666"/>
<rect x="421.22" y="18.39" width="12.60" height="2.30" fill="#666666"/>
<text transform="translate(435.88 23.50) rotate(0.03) scale(0.9240 1)" font-size="27.0" fill="#666666" stroke="#666666" stroke-width="0.4">0</text>
<text transform="translate(450.45 23.50) rotate(0.03) scale(0.9778 1)" font-size="24.84" fill="#666666" stroke="#666666" stroke-width="0.10000000000000003">.</text>
<text transform="translate(457.90 23.50) rotate(0.03) scale(0.9240 1)" font-size="27.0" fill="#666666" stroke="#666666" stroke-width="0.4">9</text>
<text transform="translate(472.47 23.50) rotate(0.03) scale(0.9778 1)" font-size="24.84" fill="#666666" stroke="#666666" stroke-width="0.10000000000000003">,</text>
<text transform="translate(487.71 23.50) rotate(0.03) scale(0.9949 1)" font-size="24.2" font-style="italic" fill="#666666" stroke="#666666" stroke-width="0.4">ω</text>
<text transform="translate(507.92 28.70) rotate(0.03) scale(1.0280 1)" font-size="18.3" font-style="italic" fill="#666666" stroke="#666666" stroke-width="0.1">q</text>
<rect x="521.17" y="12.79" width="12.60" height="2.30" fill="#666666"/>
<rect x="521.17" y="18.39" width="12.60" height="2.30" fill="#666666"/>
<rect x="536.58" y="15.67" width="12.60" height="2.35" fill="#666666"/>
<text transform="translate(551.24 23.50) rotate(0.03) scale(0.9240 1)" font-size="27.0" fill="#666666" stroke="#666666" stroke-width="0.4">4</text>
<text transform="translate(565.52 23.50) rotate(0.03) scale(0.9778 1)" font-size="27.0" fill="#666666" stroke="#666666" stroke-width="0.4">/</text>
<text transform="translate(573.26 23.50) rotate(0.03) scale(0.9240 1)" font-size="27.0" fill="#666666" stroke="#666666" stroke-width="0.4">3</text>
<text transform="translate(587.83 23.50) rotate(0.03) scale(0.9778 1)" font-size="24.84" fill="#666666" stroke="#666666" stroke-width="0.10000000000000003">,</text>
<text transform="translate(602.87 23.50) rotate(0.03) scale(0.9778 1)" font-size="27.0" fill="#666666" stroke="#666666" stroke-width="0.4">Λ</text>
<rect x="621.67" y="12.79" width="12.60" height="2.30" fill="#666666"/>
<rect x="621.67" y="18.39" width="12.60" height="2.30" fill="#666666"/>
<rect x="637.08" y="15.67" width="12.60" height="2.35" fill="#666666"/>
<path d="M661.07,23.50 H658.82 V8.91 Q658.01,9.70 656.69,10.49 Q655.37,11.27 654.32,11.67 V9.45 Q656.21,8.55 657.62,7.27 Q659.03,5.98 659.62,4.77 H661.07 Z" fill="#666666" stroke="#666666" stroke-width="0.4"/>
<text transform="translate(666.02 23.50) rotate(0.03) scale(0.9778 1)" font-size="27.0" fill="#666666" stroke="#666666" stroke-width="0.4">/</text>
<text transform="translate(673.76 23.50) rotate(0.03) scale(0.9240 1)" font-size="27.0" fill="#666666" stroke="#666666" stroke-width="0.4">2</text>
<text transform="translate(688.97 85.90) rotate(0.03) scale(1.0145 1)" font-size="27.6" fill="#000" stroke="#000" stroke-width="0.3">q</text>
<rect x="714.54" y="74.91" width="13.24" height="2.32" fill="#000"/>
<rect x="714.54" y="80.84" width="13.24" height="2.32" fill="#000"/>
<text transform="translate(729.74 86.20) rotate(0.03) scale(0.9476 1)" font-size="28.6" fill="#000" stroke="#000" stroke-width="0.3">0</text>
<text transform="translate(688.97 135.50) rotate(0.03) scale(1.0145 1)" font-size="27.6" fill="#000" stroke="#000" stroke-width="0.3">q</text>
<rect x="714.54" y="124.51" width="13.24" height="2.32" fill="#000"/>
<rect x="714.54" y="130.44" width="13.24" height="2.32" fill="#000"/>
<text transform="translate(729.74 135.80) rotate(0.03) scale(0.9476 1)" font-size="28.6" fill="#000" stroke="#000" stroke-width="0.3">0</text>
<text transform="translate(745.59 135.80) rotate(0.03) scale(0.9790 1)" font-size="26.312" fill="#000" stroke="#000" stroke-width="0.0">.</text>
<text transform="translate(753.48 135.80) rotate(0.03) scale(0.9252 1)" font-size="28.6" fill="#000" stroke="#000" stroke-width="0.3">5</text>
<text transform="translate(688.97 185.20) rotate(0.03) scale(1.0145 1)" font-size="27.6" fill="#000" stroke="#000" stroke-width="0.3">q</text>
<rect x="714.54" y="174.21" width="13.24" height="2.32" fill="#000"/>
<rect x="714.54" y="180.14" width="13.24" height="2.32" fill="#000"/>
<path d="M739.17,185.50 H736.78 V170.04 Q735.92,170.88 734.52,171.71 Q733.12,172.55 732.01,172.97 V170.62 Q734.01,169.67 735.51,168.31 Q737.01,166.94 737.63,165.66 H739.17 Z" fill="#000" stroke="#000" stroke-width="0.3"/>
</g>
</svg>
</body></html>
